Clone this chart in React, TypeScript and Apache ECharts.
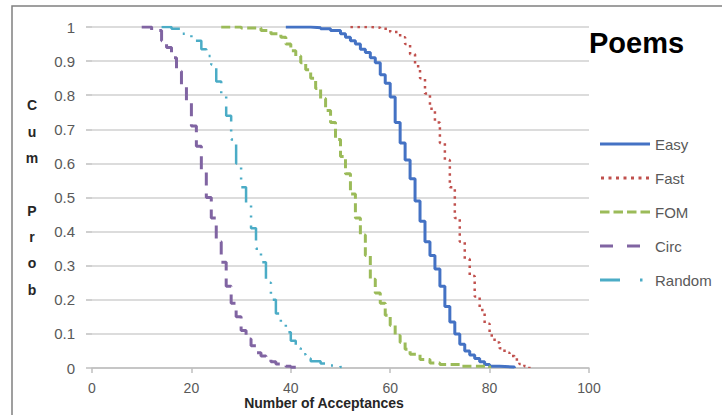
import React, { useEffect, useRef } from "react";
import * as echarts from "echarts";

const seriesNames = ["Easy", "Fast", "FOM", "Circ", "Random"];

const easyX = [39, 44, 46, 48, 50, 51, 52, 53, 54, 55, 56, 57, 58, 59, 60, 61, 62, 63, 64, 65, 66, 67, 68, 69, 70, 71, 72, 73, 74, 75, 76, 77, 78, 79, 80, 82, 85];
const easyY = [1.0, 0.998, 0.995, 0.99, 0.98, 0.97, 0.96, 0.95, 0.935, 0.925, 0.91, 0.895, 0.86, 0.835, 0.795, 0.72, 0.66, 0.61, 0.555, 0.49, 0.43, 0.37, 0.33, 0.29, 0.24, 0.18, 0.135, 0.1, 0.07, 0.05, 0.038, 0.028, 0.018, 0.01, 0.005, 0.003, 0.0];

const fastX = [52, 56, 58, 60, 62, 63, 64, 65, 66, 67, 68, 69, 70, 71, 72, 73, 74, 75, 76, 77, 78, 79, 80, 81, 82, 83, 84, 85, 86, 87, 88];
const fastY = [1.0, 0.998, 0.995, 0.985, 0.97, 0.95, 0.92, 0.885, 0.85, 0.805, 0.76, 0.72, 0.66, 0.61, 0.53, 0.44, 0.37, 0.32, 0.27, 0.21, 0.17, 0.13, 0.095, 0.075, 0.058, 0.045, 0.035, 0.025, 0.012, 0.005, 0.0];

const fomX = [26, 30, 34, 36, 38, 39, 40, 41, 42, 43, 44, 45, 46, 47, 48, 49, 50, 51, 52, 53, 54, 55, 56, 57, 58, 59, 60, 61, 62, 63, 64, 66, 68, 70, 74, 80];
const fomY = [1.0, 0.997, 0.99, 0.98, 0.97, 0.95, 0.93, 0.915, 0.895, 0.875, 0.85, 0.82, 0.79, 0.755, 0.72, 0.67, 0.62, 0.57, 0.51, 0.44, 0.39, 0.33, 0.26, 0.22, 0.19, 0.155, 0.125, 0.095, 0.075, 0.055, 0.04, 0.025, 0.015, 0.01, 0.005, 0.0];

const circX = [10, 12, 14, 15, 16, 17, 18, 19, 20, 21, 22, 23, 24, 25, 26, 27, 28, 29, 30, 31, 32, 33, 34, 35, 36, 37, 38, 39, 40, 41];
const circY = [1.0, 0.99, 0.96, 0.94, 0.91, 0.87, 0.83, 0.78, 0.71, 0.65, 0.58, 0.5, 0.44, 0.37, 0.31, 0.24, 0.19, 0.15, 0.11, 0.085, 0.065, 0.045, 0.035, 0.025, 0.018, 0.012, 0.008, 0.005, 0.002, 0.0];

const randomX = [14, 16, 18, 20, 22, 23, 24, 25, 26, 27, 28, 29, 30, 31, 32, 33, 34, 35, 36, 37, 38, 39, 40, 41, 42, 43, 44, 46, 48, 50, 51];
const randomY = [1.0, 0.995, 0.98, 0.96, 0.935, 0.915, 0.89, 0.84, 0.8, 0.74, 0.67, 0.6, 0.53, 0.48, 0.41, 0.35, 0.31, 0.25, 0.2, 0.16, 0.13, 0.105, 0.08, 0.058, 0.04, 0.028, 0.02, 0.013, 0.007, 0.003, 0.0];

const colors = ["#4472C4", "#C0504D", "#9BBB59", "#8064A2", "#4BACC6"];

const FONT = "'Liberation Sans', Arial, sans-serif";

const zip = (xs: number[], ys: number[]) => xs.map((x, i) => [x, ys[i]]);

const legendIcons = [
  "path://M0,0h50v3h-50z",
  "path://M0,0h3v3h-3zM7.5,0h3v3h-3zM15,0h3v3h-3zM22.5,0h3v3h-3zM30,0h3v3h-3zM37.5,0h3v3h-3zM45,0h3v3h-3z",
  "path://M0,0h9.5v3h-9.5zM13.5,0h9.5v3h-9.5zM27,0h9.5v3h-9.5zM40.5,0h9.5v3h-9.5z",
  "path://M0,0h13v3h-13zM27,0h13v3h-13zM49.98,1.4h0.02v0.02h-0.02z",
  "path://M0,0h20v3h-20zM40,0h2.5v3h-2.5zM49.98,1.4h0.02v0.02h-0.02z",
];

export default function App() {
  const ref = useRef<HTMLDivElement>(null);
  useEffect(() => {
    if (!ref.current) return;
    document.body.style.margin = "0";
    const chart = echarts.init(ref.current, null, { renderer: "svg", width: 722, height: 415 });
    const data = [
      zip(easyX, easyY),
      zip(fastX, fastY),
      zip(fomX, fomY),
      zip(circX, circY),
      zip(randomX, randomY),
    ];
    const styles: any[] = [
      { width: 3, type: "solid" },
      { width: 2.5, type: [2.5, 4.5] },
      { width: 3, type: [9, 4.5] },
      { width: 3, type: [13, 8] },
      { width: 2.5, type: [20, 8, 2, 8, 2, 8] },
    ];
    chart.setOption({
      animation: false,
      backgroundColor: "#ffffff",
      textStyle: { fontFamily: FONT },
      title: {
        text: "Poems",
        left: 584,
        top: 23,
        textStyle: { fontSize: 29, fontWeight: "bold", color: "#000000", fontFamily: FONT },
      },
      legend: {
        orient: "vertical",
        left: 595,
        top: 130,
        itemWidth: 50,
        itemHeight: 3,
        itemGap: 16,
        itemStyle: { borderWidth: 0 },
        textStyle: { color: "#595959", fontSize: 15, lineHeight: 18, fontFamily: FONT },
        data: seriesNames.map((n, i) => ({ name: n, icon: legendIcons[i] })),
      },
      graphic: [
        {
          type: "rect",
          shape: { x: 12, y: 6, width: 730, height: 430 },
          style: { fill: "none", stroke: "#808080", lineWidth: 1.5 },
          silent: true,
        },
      ],
      grid: { left: 92, width: 497, top: 27, height: 343, containLabel: false },
      xAxis: {
        type: "value",
        min: 0,
        max: 100,
        interval: 20,
        name: "Number of Acceptances",
        nameLocation: "middle",
        nameGap: 27,
        nameMoveOverlap: false,
        nameTextStyle: {
          fontWeight: "bold",
          fontSize: 14,
          lineHeight: 15,
          color: "#262626",
          padding: [0, 33, 0, 0],
          fontFamily: FONT,
        },
        axisLine: { show: true, lineStyle: { color: "#BFBFBF", width: 1.5 } },
        axisTick: { show: true, length: 5, lineStyle: { color: "#BFBFBF", width: 1.5 } },
        axisLabel: { color: "#595959", fontSize: 14, lineHeight: 15, margin: 12, fontFamily: FONT },
        splitLine: { show: false },
      },
      yAxis: {
        type: "value",
        min: 0,
        max: 1,
        interval: 0.1,
        name: "C\nu\nm\n\nP\nr\no\nb",
        nameLocation: "middle",
        nameRotate: 0,
        nameGap: 60,
        nameMoveOverlap: false,
        nameTextStyle: {
          fontWeight: "bold",
          fontSize: 14,
          lineHeight: 26.3,
          align: "center",
          verticalAlign: "middle",
          color: "#262626",
          padding: [4, 0, 0, 0],
          fontFamily: FONT,
        },
        axisLine: { show: false },
        axisTick: { show: true, length: 6, lineStyle: { color: "#BFBFBF", width: 1.5 } },
        axisLabel: {
          color: "#595959",
          fontSize: 15,
          margin: 17,
          fontFamily: FONT,
          formatter: (v: number) => String(Math.round(v * 10) / 10),
        },
        splitLine: { show: true, lineStyle: { color: "#D0D0D0", width: 1.5 } },
      },
      series: seriesNames.map((n, i) => ({
        name: n,
        type: "line",
        step: "end",
        data: data[i],
        showSymbol: false,
        symbol: "none",
        color: colors[i],
        itemStyle: { color: colors[i] },
        lineStyle: { color: colors[i], ...styles[i] },
        emphasis: { disabled: true },
      })),
    });
    return () => chart.dispose();
  }, []);
  return (
    <div
      ref={ref}
      style={{ position: "fixed", left: 0, top: 0, width: 722, height: 415, background: "#fff" }}
    />
  );
}
